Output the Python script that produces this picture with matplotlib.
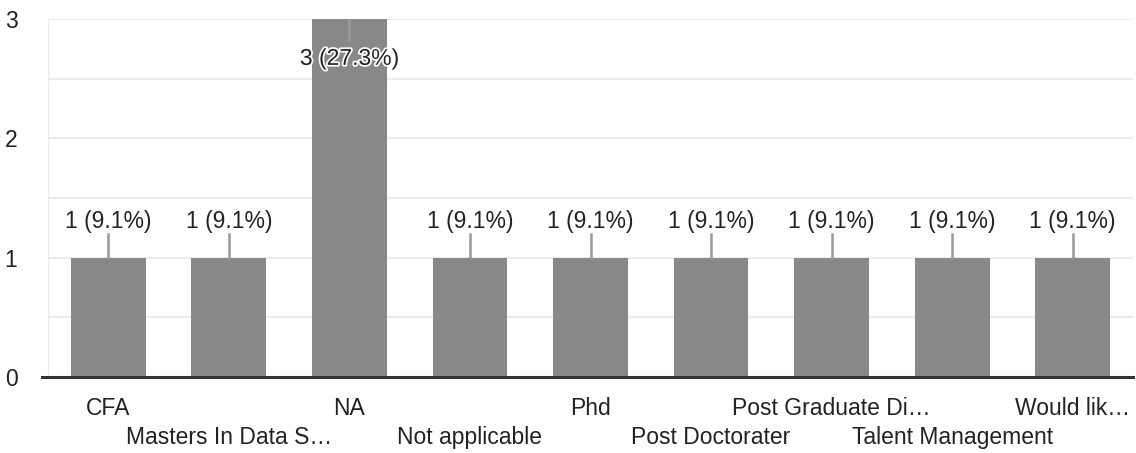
import matplotlib.pyplot as plt
import matplotlib.patheffects as pe

categories = ["CFA", "Masters In Data S\u2026", "NA", "Not applicable", "Phd",
              "Post Doctorater", "Post Graduate Di\u2026", "Talent Management",
              "Would lik\u2026"]
counts = [1, 1, 3, 1, 1, 1, 1, 1, 1]
labels = ["1 (9.1%)", "1 (9.1%)", "3 (27.3%)", "1 (9.1%)", "1 (9.1%)",
          "1 (9.1%)", "1 (9.1%)", "1 (9.1%)", "1 (9.1%)"]
y_ticks = [0, 1, 2, 3]

plt.rcParams['font.family'] = ['Liberation Sans', 'DejaVu Sans']
FS = 16.5

fig = plt.figure(figsize=(11.36, 4.53), dpi=100)
ax = fig.add_axes([48 / 1136, 76 / 453, 1085 / 1136, 358 / 453])

x = list(range(len(categories)))
ax.bar(x, counts, width=0.62, color="#888888", zorder=3)

ax.set_xlim(-0.5, len(categories) - 0.5)
ax.set_ylim(0, 3)

# gridlines at every half unit
for g in [0.5, 1, 1.5, 2, 2.5, 3]:
    ax.axhline(g, color="#ececec", lw=1.6, zorder=1)
ax.axvline(-0.5, color="#ececec", lw=1.6, zorder=1)
ax.plot([-0.55, len(categories) - 0.5], [0, 0], color="#333333", lw=2.2,
        zorder=4, clip_on=False)

# value annotations with leader lines
for xi, v, lab in zip(x, counts, labels):
    if v + 0.45 > 3:
        ax.plot([xi, xi], [v, v - 0.18], color="#999999", lw=1.8, zorder=4)
        ax.text(xi, v - 0.33, lab, ha="center", va="center", fontsize=FS,
                color="#222222", zorder=5,
                path_effects=[pe.withStroke(linewidth=2.5, foreground="white")])
    else:
        ax.plot([xi, xi], [v, v + 0.2], color="#999999", lw=1.8, zorder=4)
        ax.text(xi, v + 0.3, lab, ha="center", va="center", fontsize=FS,
                color="#222222", zorder=5)

for s in ax.spines.values():
    s.set_visible(False)

ax.set_yticks(y_ticks)
ax.set_yticklabels([str(t) for t in y_ticks])
ax.tick_params(axis="y", length=0, labelsize=FS, labelcolor="#222222", pad=22)
ax.set_xticks([])

# staggered category labels
for xi, c in zip(x, categories):
    yrow = -0.26 if xi % 2 == 0 else -0.505
    ax.text(xi, yrow, c, ha="center", va="center", fontsize=FS,
            color="#222222", clip_on=False)

fig.savefig("out.png", dpi=100)
